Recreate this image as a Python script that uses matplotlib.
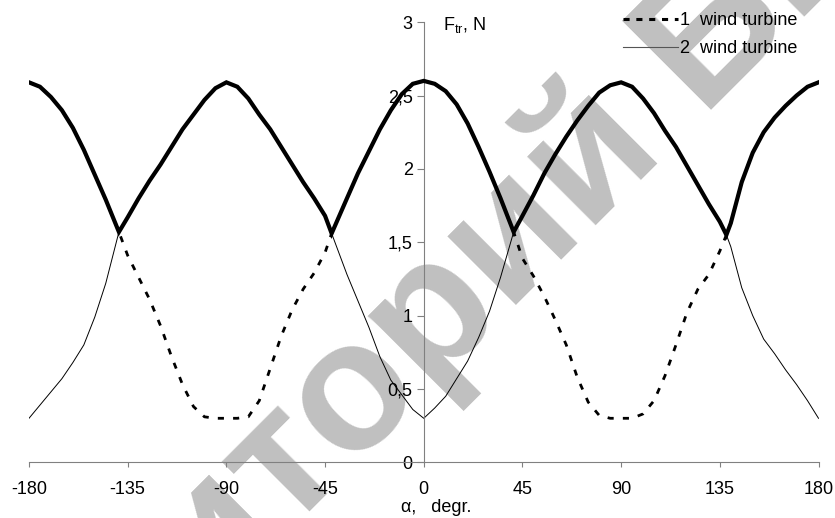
import numpy as np
import matplotlib
matplotlib.use('Agg')
import matplotlib.pyplot as plt
from matplotlib.lines import Line2D
from matplotlib.font_manager import FontProperties

plt.rcParams['font.family'] = ['Liberation Sans', 'DejaVu Sans']
plt.rcParams['mathtext.fontset'] = 'custom'
plt.rcParams['mathtext.rm'] = 'Liberation Sans'

# data (angle in degrees, force in N)
angles = [-180, -175, -170, -165, -160, -155, -150, -145, -139,
          -135, -130, -125, -120, -115, -110, -105, -100, -95, -90,
          -85, -80, -75, -70, -65, -60, -55, -50, -45, -42,
          -35, -30, -25, -20, -15, -10, -5, 0,
          5, 10, 15, 20, 25, 30, 35, 41,
          45, 50, 55, 60, 65, 70, 75, 80, 85, 90,
          95, 100, 105, 110, 115, 120, 125, 130, 135, 138,
          140, 145, 150, 155, 160, 165, 170, 175, 180]

turbine1 = [2.59, 2.56, 2.49, 2.40, 2.28, 2.13, 1.96, 1.79, 1.57,
            1.41, 1.26, 1.11, 0.93, 0.72, 0.53, 0.38, 0.31, 0.30, 0.30,
            0.30, 0.31, 0.42, 0.64, 0.86, 1.04, 1.18, 1.29, 1.43, 1.56,
            1.80, 1.97, 2.12, 2.27, 2.40, 2.51, 2.58, 2.60,
            2.58, 2.53, 2.44, 2.31, 2.15, 1.98, 1.80, 1.57,
            1.39, 1.27, 1.13, 0.97, 0.80, 0.58, 0.41, 0.32, 0.30, 0.30,
            0.30, 0.33, 0.42, 0.59, 0.80, 1.02, 1.18, 1.28, 1.44, 1.55,
            1.63, 1.91, 2.11, 2.25, 2.35, 2.43, 2.50, 2.56, 2.59]

turbine2 = [0.30, 0.39, 0.48, 0.57, 0.68, 0.80, 0.99, 1.22, 1.57,
            1.67, 1.80, 1.92, 2.03, 2.15, 2.27, 2.37, 2.47, 2.55, 2.59,
            2.56, 2.48, 2.37, 2.27, 2.15, 2.03, 1.91, 1.80, 1.68, 1.56,
            1.28, 1.10, 0.92, 0.72, 0.56, 0.46, 0.36, 0.30,
            0.37, 0.45, 0.57, 0.69, 0.85, 1.03, 1.26, 1.57,
            1.68, 1.82, 1.97, 2.10, 2.22, 2.33, 2.43, 2.52, 2.57, 2.59,
            2.56, 2.48, 2.38, 2.26, 2.15, 2.02, 1.89, 1.76, 1.64, 1.55,
            1.47, 1.19, 1.00, 0.84, 0.74, 0.63, 0.53, 0.42, 0.30]

xticks = [-180, -135, -90, -45, 0, 45, 90, 135, 180]
yticks = [0, 0.5, 1, 1.5, 2, 2.5, 3]
ytick_labels = ['0', '0,5', '1', '1,5', '2', '2,5', '3']
legend_labels = ['1  wind turbine', '2  wind turbine']

# envelope = the larger of the two
total = np.maximum(turbine1, turbine2)

W, H = 835, 518
fig = plt.figure(figsize=(W / 100, H / 100), dpi=100)
ax = fig.add_axes([29 / W, 1 - 462.3 / H, (818.5 - 29) / W, (462.3 - 22.2) / H])
ax.patch.set_alpha(0)

# watermark behind everything, placed so that the "о" after "т" sits at (357, 397) px
wm_text = 'Репозиторий БНТУ'
wm_size = 132
wm_angle = 45
theta = np.radians(wm_angle)
renderer = fig.canvas.get_renderer()
wm_prop = FontProperties(family='Liberation Sans', weight='bold', size=wm_size)
w_pre = renderer.get_text_width_height_descent('Репозит', wm_prop, ismath=False)[0]
w_o = renderer.get_text_width_height_descent('о', wm_prop, ismath=False)[0]
xh = 0.52 * wm_size * 100 / 72
d = np.array([np.cos(theta), np.sin(theta)])
u = np.array([-np.sin(theta), np.cos(theta)])
c = np.array([357, H - 397])
p = c - (w_pre + w_o / 2) * d - (xh / 2) * u
fig.text(p[0] / W, p[1] / H, wm_text, rotation=wm_angle, rotation_mode='anchor',
         ha='left', va='baseline', fontproperties=wm_prop, color='#c0c0c0', zorder=-1)

ax.plot(angles, turbine1, color='black', lw=2, dashes=(2.2, 3.3), dash_capstyle='butt', zorder=2)
ax.plot(angles, turbine2, color='black', lw=0.7, zorder=2)
ax.plot(angles, total, color='black', lw=3, solid_joinstyle='miter', zorder=3)

ax.set_xlim(-180, 180)
ax.set_ylim(0, 3)
ax.spines['left'].set_position(('data', 0))
ax.spines['top'].set_visible(False)
ax.spines['right'].set_visible(False)
for s in ['left', 'bottom']:
    ax.spines[s].set_color('#808080')
    ax.spines[s].set_linewidth(0.8)

ax.set_xticks(xticks)
ax.set_xticklabels([str(t) for t in xticks])
ax.set_yticks(yticks)
ax.set_yticklabels(ytick_labels)
ax.tick_params(axis='both', direction='out', width=0.8, color='#808080', labelsize=13)
ax.tick_params(axis='x', length=3.5, pad=10)
ax.tick_params(axis='y', length=5, pad=3)

fig.text(443 / W, 1 - 25 / H, r'F$_{\rm tr}$, N', fontsize=13, va='center', ha='left')
fig.text(436 / W, 1 - 508 / H, 'α,   degr.', ha='center', va='center', fontsize=13)

handles = [Line2D([], [], color='black', lw=2.2, dashes=(2, 2.2), dash_capstyle='butt'),
           Line2D([], [], color='#555555', lw=0.8)]
fig.legend(handles, legend_labels, loc='upper left', bbox_to_anchor=(623 / W, 1 - 12 / H),
           bbox_transform=fig.transFigure, frameon=False, fontsize=13, handlelength=3.05,
           handletextpad=0.12, labelspacing=0.62, borderpad=0, borderaxespad=0)

fig.savefig('out.png', dpi=100)
